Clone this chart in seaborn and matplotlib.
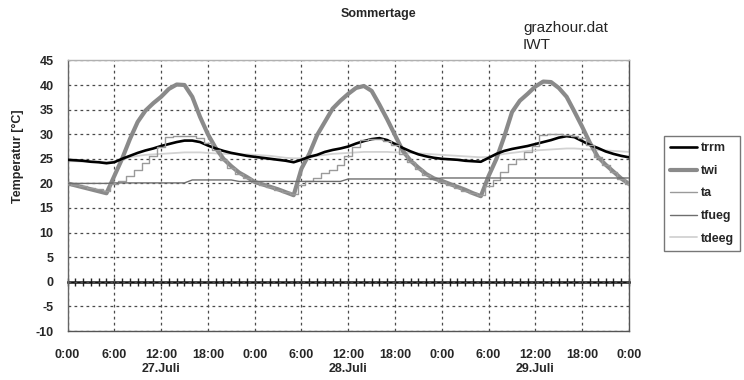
import numpy as np
import pandas as pd
import matplotlib
matplotlib.use("Agg")
import matplotlib.pyplot as plt
import seaborn as sns
from matplotlib.ticker import MultipleLocator

# ---------------- data (hourly, 27.Juli 0:00 .. 30.Juli 0:00) ----------------
hours = list(range(73))

trrm = [24.8, 24.7, 24.6, 24.4, 24.3, 24.1, 24.3, 25.0, 25.6, 26.2, 26.7, 27.1, 27.6, 28.0, 28.4, 28.7,
        28.7, 28.4, 27.7, 27.1, 26.6, 26.2, 25.9, 25.6, 25.4, 25.2, 25.0, 24.8, 24.6, 24.3, 24.8, 25.4,
        25.8, 26.4, 26.8, 27.1, 27.5, 28.1, 28.6, 29.0, 29.2, 28.8, 28.0, 27.2, 26.5, 25.9, 25.5, 25.2,
        25.0, 24.9, 24.8, 24.6, 24.5, 24.4, 25.2, 26.0, 26.6, 27.0, 27.3, 27.6, 28.0, 28.4, 28.8, 29.3,
        29.6, 29.4, 28.6, 27.8, 27.2, 26.5, 26.0, 25.6, 25.3]

twi = [20.0, 19.6, 19.2, 18.8, 18.4, 18.0, 21.5, 25.0, 29.0, 32.5, 34.8, 36.3, 37.6, 39.2, 40.1, 40.0,
       37.6, 33.5, 30.0, 27.2, 25.0, 23.5, 22.2, 21.3, 20.3, 19.8, 19.3, 18.8, 18.2, 17.6, 23.0, 26.0,
       29.8, 32.5, 35.2, 36.8, 38.2, 39.4, 39.8, 38.8, 36.0, 33.0, 29.8, 26.6, 24.6, 23.2, 21.9, 21.0,
       20.5, 19.9, 19.3, 18.7, 18.0, 17.4, 21.5, 25.0, 29.5, 34.5, 36.8, 38.2, 39.7, 40.7, 40.6, 39.4,
       37.6, 34.6, 31.5, 28.2, 25.4, 23.8, 22.4, 21.0, 19.9]

ta = [20.0, 19.7, 19.4, 19.1, 18.8, 18.5, 19.8, 20.5, 21.5, 22.8, 24.2, 25.5, 27.3, 29.5, 29.6, 29.6,
      29.6, 29.3, 28.3, 26.8, 24.7, 23.2, 22.0, 21.1, 20.2, 19.7, 19.2, 18.7, 18.2, 17.8, 19.7, 20.4,
      21.1, 22.1, 22.8, 23.8, 25.5, 27.5, 28.8, 29.0, 29.0, 28.6, 27.8, 26.0, 24.3, 23.0, 21.7, 20.8,
      20.3, 19.7, 19.1, 18.5, 18.0, 17.7, 19.5, 20.6, 22.4, 24.0, 25.0, 26.3, 27.6, 29.8, 30.0, 30.0,
      29.9, 29.6, 29.3, 27.8, 25.3, 23.7, 22.3, 20.8, 19.8]

tfueg = [20.0, 20.0, 20.0, 20.0, 20.0, 20.0, 20.1, 20.1, 20.1, 20.1, 20.1, 20.1, 20.1, 20.1, 20.1, 20.1,
         20.7, 20.7, 20.7, 20.7, 20.7, 20.7, 20.4, 20.4, 20.4, 20.4, 20.4, 20.4, 20.4, 20.4, 20.4, 20.4,
         20.4, 20.4, 20.4, 20.4, 20.9, 20.9, 20.9, 20.9, 20.9, 20.9, 20.9, 20.9, 20.9, 20.9, 20.9, 20.9,
         21.1, 21.1, 21.1, 21.1, 21.1, 21.1, 21.1, 21.1, 21.1, 21.1, 21.1, 21.1, 21.1, 21.1, 21.1, 21.1,
         21.1, 21.1, 21.1, 21.1, 21.1, 21.1, 21.1, 21.1, 21.1]

tdeeg = [24.5, 24.5, 24.4, 24.4, 24.3, 24.3, 24.5, 24.9, 25.3, 25.6, 25.8, 25.9, 26.0, 26.1, 26.2, 26.3,
         26.3, 26.3, 26.2, 26.1, 26.0, 26.0, 25.9, 25.9, 25.8, 25.7, 25.6, 25.4, 25.2, 25.1, 25.1, 25.3,
         25.6, 25.8, 26.0, 26.1, 26.2, 26.3, 26.4, 26.4, 26.4, 26.4, 26.3, 26.3, 26.2, 26.1, 26.0, 25.9,
         25.8, 25.7, 25.6, 25.5, 25.4, 25.3, 25.4, 25.7, 26.0, 26.2, 26.4, 26.6, 26.7, 26.8, 26.9, 27.0,
         27.1, 27.1, 27.0, 26.9, 26.8, 26.7, 26.6, 26.5, 26.4]

time_labels = ["0:00", "6:00", "12:00", "18:00", "0:00", "6:00", "12:00", "18:00",
               "0:00", "6:00", "12:00", "18:00", "0:00"]
day_labels = {12: "27.Juli", 36: "28.Juli", 60: "29.Juli"}
y_ticks = [-10, -5, 0, 5, 10, 15, 20, 25, 30, 35, 40, 45]

series = ["trrm", "twi", "ta", "tfueg", "tdeeg"]
values = {"trrm": trrm, "twi": twi, "ta": ta, "tfueg": tfueg, "tdeeg": tdeeg}

# ---------------- style ----------------
sns.set_style("white")
plt.rcParams["font.family"] = ["Liberation Sans", "DejaVu Sans"]

styles = {
    "trrm":  dict(color="#000000", lw=1.9, drawstyle="default", z=4),
    "twi":   dict(color="#8a8a8a", lw=3.0, drawstyle="default", z=3),
    "ta":    dict(color="#9a9a9a", lw=1.0, drawstyle="steps-mid", z=5),
    "tfueg": dict(color="#6e6e6e", lw=1.0, drawstyle="default", z=5),
    "tdeeg": dict(color="#d2d2d2", lw=1.3, drawstyle="default", z=2),
}

W, H = 744, 380
fig = plt.figure(figsize=(W / 100, H / 100), dpi=100)
ax_l, ax_r, ax_t, ax_b = 67.5, 629.0, 60.4, 331.0
ax = fig.add_axes([ax_l / W, 1 - ax_b / H, (ax_r - ax_l) / W, (ax_b - ax_t) / H])

for name in series:
    st = styles[name]
    df = pd.DataFrame({"h": hours, "v": values[name]})
    sns.lineplot(data=df, x="h", y="v", ax=ax, color=st["color"], lw=st["lw"],
                 drawstyle=st["drawstyle"], label=name, zorder=st["z"], legend=False)

ax.set_xlim(0, 72)
ax.set_ylim(-10, 45)
ax.set_xlabel("")
ax.set_ylabel("")

# grid
ax.set_xticks(range(0, 73, 6))
ax.set_yticks(y_ticks)
ax.grid(True, which="major", color="#4a4a4a", linestyle=(0, (2.2, 2.6)), lw=0.9)
ax.set_axisbelow(True)

# x tick labels (time + date)
xl = []
for i, t in enumerate(time_labels):
    pos = i * 6
    xl.append(t + ("\n" + day_labels[pos] if pos in day_labels else ""))
ax.set_xticklabels(xl, fontsize=9, fontweight="bold", linespacing=1.2)
ax.tick_params(axis="x", which="major", direction="in", length=3, pad=13, color="#555555")
ax.set_yticklabels([str(v) for v in y_ticks], fontsize=9, fontweight="bold")
ax.tick_params(axis="y", which="major", direction="inout", length=6, pad=7, color="#555555")
ax.yaxis.set_minor_locator(MultipleLocator(1))
ax.tick_params(axis="y", which="minor", direction="in", length=3, color="#777777", width=0.8)

for side, c in [("left", "#666666"), ("bottom", "#555555"), ("right", "#555555"), ("top", "#b0b0b0")]:
    ax.spines[side].set_visible(True)
    ax.spines[side].set_color(c)
    ax.spines[side].set_linewidth(1.0)

# zero line with hourly ticks
sec = ax.secondary_xaxis(10 / 55)
sec.set_xticks(range(0, 73, 1))
sec.tick_params(axis="x", direction="inout", length=6, width=1.0, color="#222222", labelbottom=False)
sec.xaxis.set_ticklabels([])
sec.spines["bottom"].set_color("#111111")
sec.spines["bottom"].set_linewidth(1.8)

# texts
fig.text(378 / W, 1 - 14 / H, "Sommertage", ha="center", va="center", fontsize=9,
         fontweight="bold")
fig.text(523 / W, 1 - 28 / H, "grazhour.dat", ha="left", va="center", fontsize=11)
fig.text(523 / W, 1 - 45 / H, "IWT", ha="left", va="center", fontsize=11)
fig.text(18 / W, 1 - 156 / H, "Temperatur [°C]", ha="center", va="center", rotation=90,
         fontsize=9, fontweight="bold")

# legend
handles, labels = ax.get_legend_handles_labels()
leg = fig.legend(handles, labels, loc="upper left", bbox_to_anchor=(664 / W, 1 - 136 / H),
                 frameon=True, fancybox=False, shadow=False,
                 prop={"weight": "bold", "size": 9}, handlelength=2.1, handletextpad=0.35,
                 labelspacing=0.85, borderpad=0.5, borderaxespad=0)
leg.get_frame().set_edgecolor("#555555")
leg.get_frame().set_linewidth(1.0)

fig.savefig("out.png", dpi=100)
